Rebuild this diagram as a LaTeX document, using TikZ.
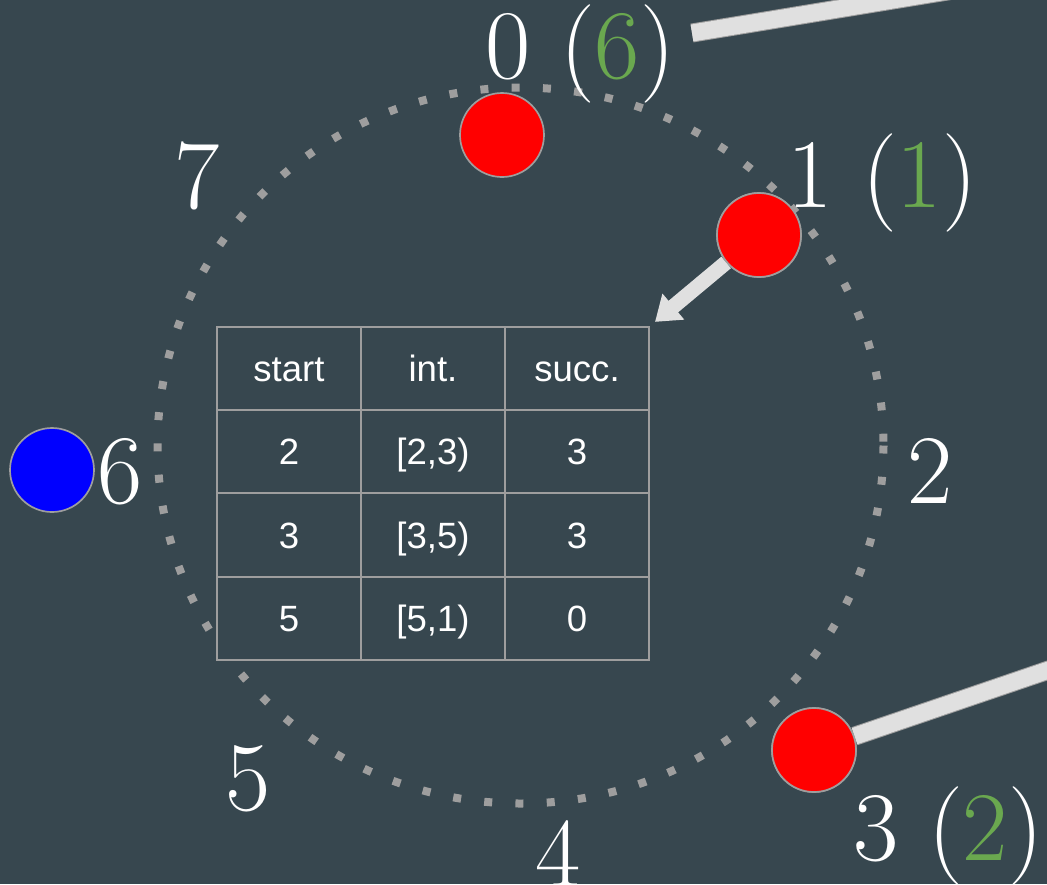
\documentclass[tikz,border=0pt]{standalone}
\usepackage{fontspec}
\usepackage{tikz}
\usetikzlibrary{arrows.meta}

\newfontfamily\tabfont{Liberation Sans}
\newcommand{\labfont}{\fontsize{70}{72}\selectfont}
\newdimen\pu \pu=0.025cm

\definecolor{slate}{HTML}{37474F}
\definecolor{dotgrey}{HTML}{9E9E9E}
\definecolor{idgreen}{HTML}{6AA84F}
\definecolor{barfill}{HTML}{E0E0E0}

\begin{document}
\begin{tikzpicture}[
      x=0.025cm, y=-0.025cm,
      ring/.style={draw=dotgrey, line width=8\pu, dash pattern=on 8\pu off 23.3\pu},
      peer/.style={circle, fill=red, draw=dotgrey, line width=1.2pt, minimum size=84\pu, inner sep=0pt},
      lab/.style={text=white, font=\labfont, inner sep=0pt, anchor=base},
      cell/.style={draw=dotgrey, line width=1.4pt, fill=slate, text=white, font=\tabfont\fontsize{26}{28}\selectfont,
                   minimum width=144\pu, minimum height=83.25\pu, inner sep=0pt, text height=18.6pt, text depth=0pt},
      bar/.style={draw=barfill, line width=17\pu, preaction={draw=dotgrey, line width=19\pu}},
      >={Triangle[width=23pt, length=17pt]}
    ]

    % ---- page ----
    \useasboundingbox (0,0) rectangle (1047,884);
    \clip (0,0) rectangle (1047,884);
    \fill[slate] (0,0) rectangle (1047,884);

    % ---- identifier ring ----
    \draw[ring] (520.5,445.5) ellipse [x radius=363, y radius=358];

    % ================= finger table =================
    \foreach \r/\a/\b/\c in {0/start/int./succ., 1/2/{[2,3)}/3, 2/3/{[3,5)}/3, 3/5/{[5,1)}/0} {
      \node[cell] (c\r-1) at (289, 368.5+83.25*\r) {\a};
      \node[cell] (c\r-2) at (433, 368.5+83.25*\r) {\b};
      \node[cell] (c\r-3) at (577, 368.5+83.25*\r) {\c};
    }

    % ================= ring positions =================
    \node[lab] (lab0) at (580,78) {0 (\textcolor{idgreen}{6})};
    \node[lab] (lab1) at (882,207) {1 (\textcolor{idgreen}{1})};
    \node[lab] (lab2) at (930,503) {2};
    \node[lab] (lab3) at (948,860) {3 (\textcolor{idgreen}{2})};
    \node[lab] (lab4) at (558,886) {4};
    \node[lab] (lab5) at (248,810) {5};
    \node[lab] (lab6) at (120,503) {6};
    \node[lab] (lab7) at (197,208) {7};

    % ---- links leaving the picture ----
    \coordinate (top0) at (692,33);
    \coordinate (top1) at (1075,-30);
    \coordinate (bot1) at (1075,661);
    \coordinate (arrtip) at ([shift={(5,-4)}]c0-3.north east);

    \node[peer] (n3) at (814,750) {};
    \draw[bar] (top0) -- (top1);
    \draw[bar] (n3) -- (bot1);

    \node[peer] (n1) at (759,235) {};
    \draw[->, draw=barfill, line width=15\pu] (n1) -- (arrtip);

    % ================= peers =================
    \node[peer] (n0) at (502,135) {};
    \node[peer] at (n1) {};
    \node[peer] at (n3) {};
    \node[peer, fill=blue] (n6) at (52,470) {};

    \end{tikzpicture}
\end{document}
